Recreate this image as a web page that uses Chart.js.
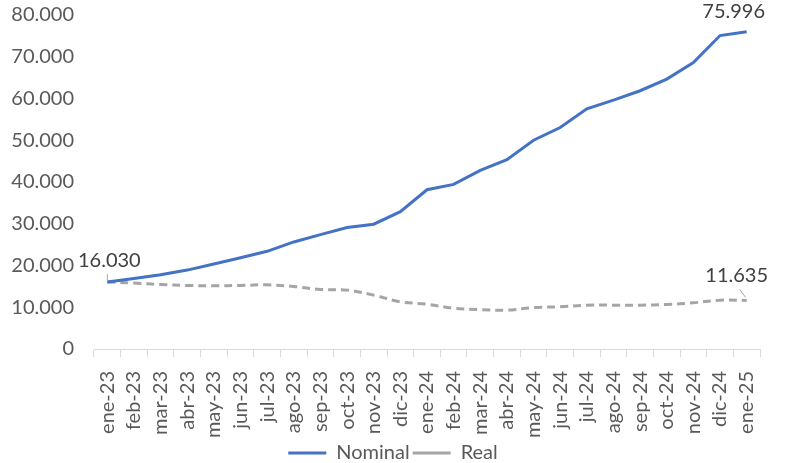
<!DOCTYPE html>
<html>
<head>
<meta charset="utf-8">
<script src="https://cdn.jsdelivr.net/npm/chart.js@4"></script>
<style>
  html, body { margin: 0; padding: 0; background: #fff; }
  #wrap { width: 786px; height: 463px; }
</style>
</head>
<body>
<div id="wrap"><canvas id="chart" width="786" height="463"></canvas></div>
<script>
const months = ['ene-23', 'feb-23', 'mar-23', 'abr-23', 'may-23', 'jun-23', 'jul-23', 'ago-23', 'sep-23', 'oct-23', 'nov-23', 'dic-23',
  'ene-24', 'feb-24', 'mar-24', 'abr-24', 'may-24', 'jun-24', 'jul-24', 'ago-24', 'sep-24', 'oct-24', 'nov-24', 'dic-24', 'ene-25'];
const nominal = [16030, 16900, 17800, 18900, 20350, 21870, 23400, 25640, 27400, 29100, 29900, 32900,
  38140, 39420, 42800, 45350, 50000, 53040, 57530, 59620, 61860, 64660, 68590, 75080, 75996];
const real = [16030, 15790, 15460, 15220, 15140, 15220, 15380, 14980, 14260, 14100, 12900, 11300,
  10740, 9780, 9450, 9300, 9930, 10100, 10500, 10500, 10500, 10660, 11060, 11700, 11635];
const yTicks = [0, 10000, 20000, 30000, 40000, 50000, 60000, 70000, 80000];

const FONT = 'Lato, "Open Sans", sans-serif';
const fmt = v => v.toLocaleString('de-DE');

// labels on first/last points, positioned from the plotted points
const pointLabels = {
  id: 'pointLabels',
  afterDatasetsDraw(chart) {
    const ctx = chart.ctx;
    const marks = [
      { ds: 0, i: 0, dx: 2, dy: -22, lead: false },
      { ds: 0, i: nominal.length - 1, dx: -13, dy: -20, lead: false },
      { ds: 1, i: real.length - 1, dx: -10, dy: -25, lead: true }
    ];
    ctx.save();
    ctx.font = '20px ' + FONT;
    ctx.fillStyle = '#404040';
    ctx.textAlign = 'center';
    ctx.textBaseline = 'middle';
    marks.forEach(m => {
      const pt = chart.getDatasetMeta(m.ds).data[m.i];
      const val = chart.data.datasets[m.ds].data[m.i];
      ctx.fillText(fmt(val), pt.x + m.dx, pt.y + m.dy);
      if (m.lead) {
        ctx.strokeStyle = '#a6a6a6';
        ctx.lineWidth = 1;
        ctx.beginPath();
        ctx.moveTo(pt.x - 7, pt.y - 11);
        ctx.lineTo(pt.x - 1, pt.y - 3);
        ctx.stroke();
      }
    });
    // small leader tick under the first label
    const p0 = chart.getDatasetMeta(0).data[0];
    ctx.strokeStyle = '#a6a6a6';
    ctx.beginPath();
    ctx.moveTo(p0.x, p0.y - 8);
    ctx.lineTo(p0.x, p0.y - 2);
    ctx.stroke();
    ctx.restore();
  }
};

new Chart(document.getElementById('chart'), {
  type: 'line',
  data: {
    labels: months,
    datasets: [
      {
        label: 'Nominal',
        data: nominal,
        borderColor: '#4472C4',
        backgroundColor: '#4472C4',
        borderWidth: 3,
        pointRadius: 0,
        pointStyle: 'line',
        tension: 0
      },
      {
        label: 'Real',
        data: real,
        borderColor: '#A5A5A5',
        backgroundColor: '#A5A5A5',
        borderWidth: 3,
        borderDash: [8, 5],
        pointRadius: 0,
        pointStyle: 'line',
        tension: 0.35
      }
    ]
  },
  options: {
    responsive: false,
    animation: false,
    layout: { padding: { top: 15, right: 0, left: 0, bottom: -10 } },
    plugins: {
      legend: {
        position: 'bottom',
        labels: {
          usePointStyle: true,
          pointStyle: 'line',
          pointStyleWidth: 38,
          color: '#595959',
          font: { family: FONT, size: 20 },
          padding: 3
        }
      },
      tooltip: { enabled: false }
    },
    scales: {
      x: {
        offset: true,
        afterFit: scale => { scale.height = 91; },
        grid: { display: true, drawOnChartArea: false, offset: true, drawTicks: true, tickLength: 8, color: '#d9d9d9' },
        border: { color: '#d9d9d9' },
        ticks: {
          color: '#595959',
          font: { family: FONT, size: 20 },
          maxRotation: 90,
          minRotation: 90,
          autoSkip: false,
          padding: 14
        }
      },
      y: {
        min: 0,
        max: 80000,
        afterBuildTicks: scale => { scale.ticks = yTicks.map(v => ({ value: v })); },
        afterFit: scale => { scale.width = 94; scale.paddingTop = 0; scale.paddingBottom = 0; },
        grid: { display: false },
        border: { display: false },
        ticks: {
          color: '#595959',
          font: { family: FONT, size: 20 },
          padding: 12,
          callback: v => fmt(v)
        }
      },
      // empty right margin so the legend centres on the whole canvas
      yRight: {
        position: 'right',
        afterFit: scale => { scale.width = 26; scale.paddingTop = 0; scale.paddingBottom = 0; },
        grid: { display: false },
        border: { display: false },
        ticks: { display: false }
      }
    }
  },
  plugins: [pointLabels]
});
</script>
</body>
</html>
